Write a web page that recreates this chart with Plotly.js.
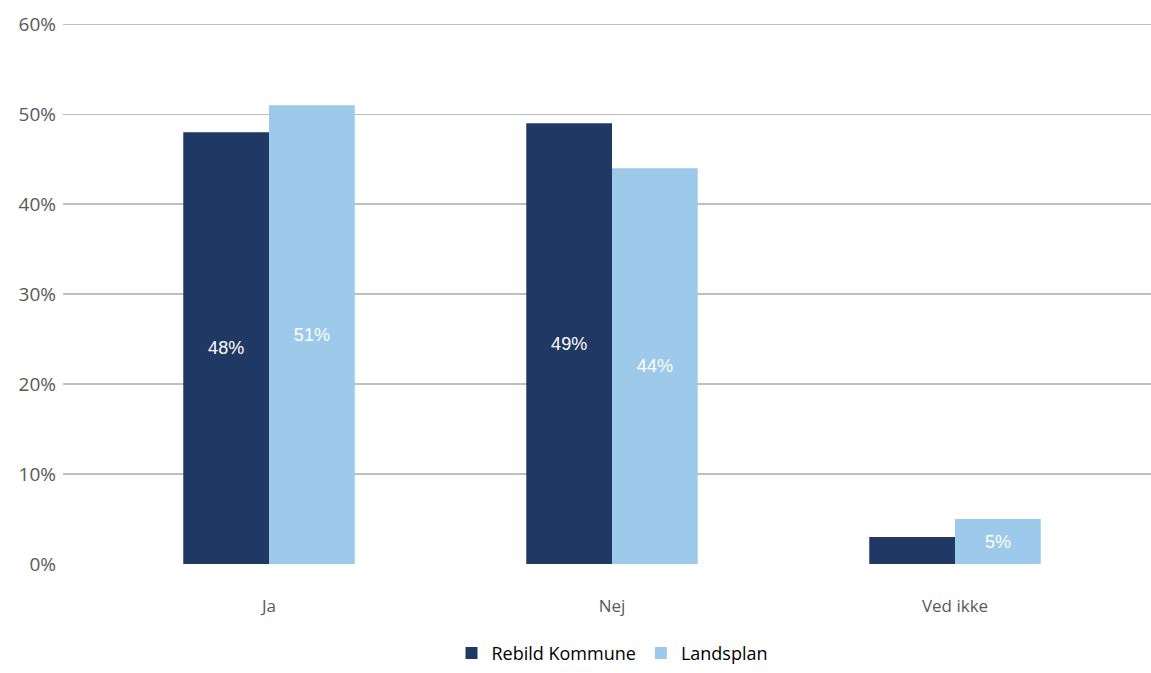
<!DOCTYPE html>
<html><head><meta charset="utf-8">
<script src="https://cdn.plot.ly/plotly-3.0.1.min.js"></script>
<style>html,body{margin:0;padding:0;background:#fff}#chart{width:1151px;height:673px}</style>
</head><body><div id="chart"></div>
<script>
const categories = ["Ja", "Nej", "Ved ikke"];
const rebild = [0.48, 0.49, 0.03];
const landsplan = [0.51, 0.44, 0.05];
const rebildLabels = ["48%", "49%", ""];
const landsplanLabels = ["51%", "44%", "5%"];
const yTickVals = [0, 0.1, 0.2, 0.3, 0.4, 0.5, 0.6];
const yTickText = ["0%", "10%", "20%", "30%", "40%", "50%", "60%"];

const labelFont = {family: "Liberation Sans, Arial, sans-serif", size: 18, color: "#ffffff"};
const traces = [
  {type: "bar", name: "Rebild Kommune", x: categories, y: rebild, text: rebildLabels,
   textposition: "inside", insidetextanchor: "middle", textfont: labelFont, textangle: 0,
   marker: {color: "#203864"}, hoverinfo: "skip"},
  {type: "bar", name: "Landsplan", x: categories, y: landsplan, text: landsplanLabels,
   textposition: "inside", insidetextanchor: "middle", textfont: labelFont, textangle: 0,
   marker: {color: "#9DC9EA"}, hoverinfo: "skip"}
];
const layout = {
  width: 1151, height: 673,
  margin: {l: 63, r: 0, t: 23, b: 109},
  paper_bgcolor: "#fff", plot_bgcolor: "#fff",
  barmode: "group", bargap: 0.5, bargroupgap: 0,
  font: {family: "Open Sans, sans-serif", color: "#595959"},
  xaxis: {type: "category", range: [-0.6006, 2.5714], showgrid: false, zeroline: false,
    automargin: false, showline: false, ticks: "", tickfont: {family: "Open Sans, sans-serif", size: 17, color: "#595959"},
    ticklabelstandoff: 30},
  yaxis: {range: [0, 0.6015], tickvals: yTickVals, ticktext: yTickText, showgrid: true,
    automargin: false, gridcolor: "#BFBFBF", gridwidth: 1.5, zeroline: false, showline: false, ticks: "",
    tickfont: {family: "Open Sans, sans-serif", size: 19, color: "#595959"}, ticklabelstandoff: 6},
  showlegend: true,
  legend: {orientation: "h", x: 0.5046, xanchor: "center", y: -0.165, yanchor: "middle",
    font: {family: "Open Sans, sans-serif", size: 18, color: "#000"}, traceorder: "normal"}
};
Plotly.newPlot("chart", traces, layout, {displayModeBar: false, staticPlot: true});
</script></body></html>
